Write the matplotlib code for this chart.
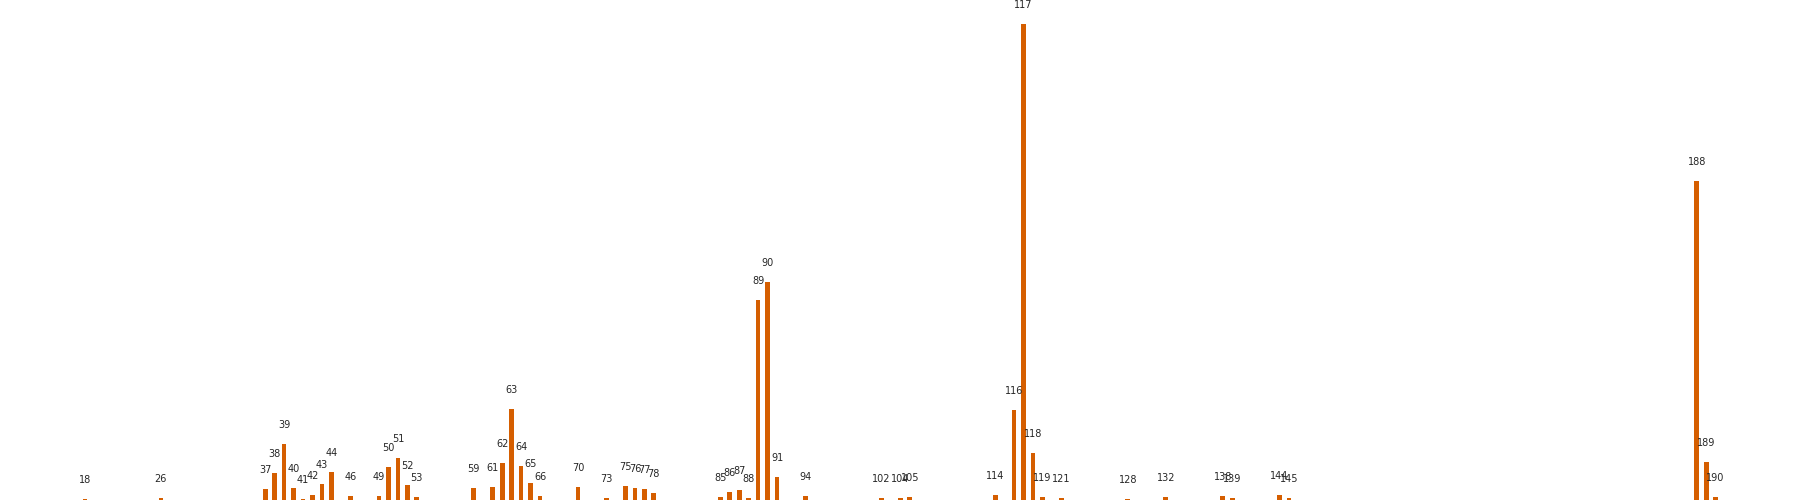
import matplotlib
matplotlib.use("Agg")
import matplotlib.pyplot as plt

positions = [18, 26, 37, 38, 39, 40, 41, 42, 43, 44, 46, 49, 50, 51, 52, 53,
             59, 61, 62, 63, 64, 65, 66, 70, 73, 75, 76, 77, 78,
             85, 86, 87, 88, 89, 90, 91, 94, 102, 104, 105, 114,
             116, 117, 118, 119, 121, 128, 132, 138, 139, 144, 145,
             188, 189, 190]
values = [1, 2, 11, 27, 56, 12, 1, 5, 16, 28, 4, 4, 33, 42, 15, 3,
          12, 13, 37, 91, 34, 17, 4, 13, 2, 14, 12, 11, 7,
          3, 8, 10, 2, 200, 218, 23, 4, 2, 2, 3, 5,
          90, 476, 47, 3, 2, 1, 3, 4, 2, 5, 2,
          319, 38, 3]
labels = [str(p) for p in positions]

fig = plt.figure(figsize=(18, 5), dpi=100)
ax = fig.add_axes([0, 0, 1, 1])
ax.bar(positions, values, width=0.5, color="#D55E00")
for x, v, lab in zip(positions, values, labels):
    ax.annotate(lab, (x, v), xytext=(0, 14), textcoords="offset points",
                ha="center", va="center", fontsize=7, color="#262626")
ax.set_xlim(9.03, 198.9)
ax.set_ylim(0, 500)
ax.axis("off")
fig.savefig("out.png", dpi=100)
